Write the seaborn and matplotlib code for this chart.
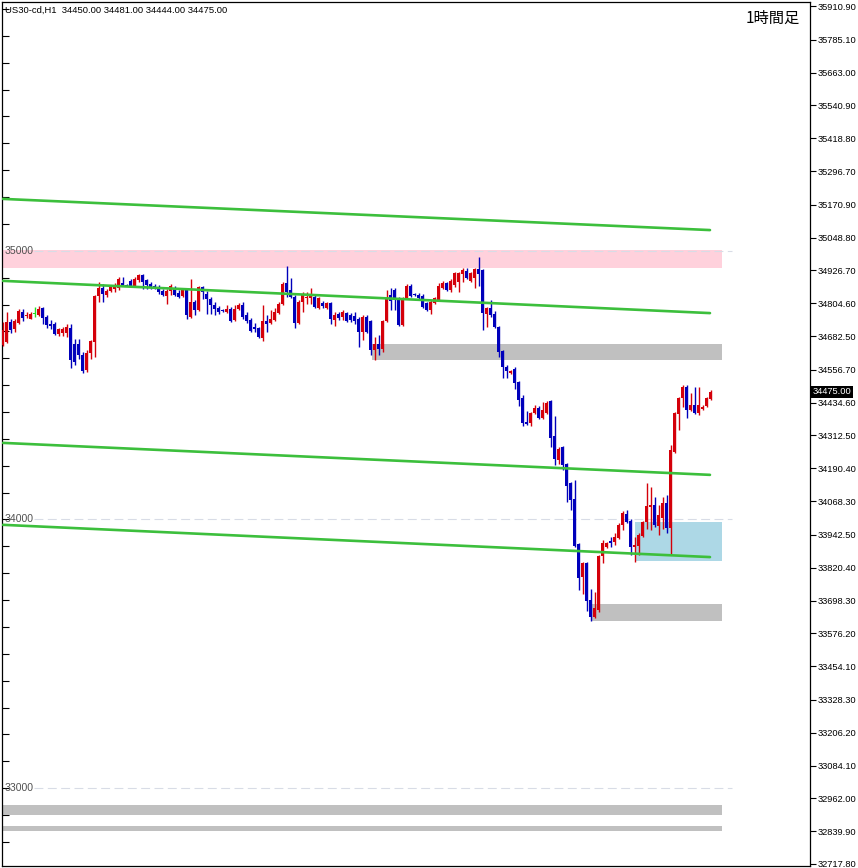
import numpy as np
import pandas as pd
import matplotlib
matplotlib.use('Agg')
import matplotlib.pyplot as plt
import matplotlib.transforms as mtransforms
from matplotlib.patches import Rectangle
from matplotlib.ticker import FixedLocator, MultipleLocator
import seaborn as sns

# === DATA: US30 1-hour candles ===
opens = [34649, 34661, 34735, 34709, 34731, 34772, 34757, 34746, 34765, 34761,
         34787, 34754, 34728, 34728, 34690, 34694, 34694, 34713, 34653, 34653,
         34612, 34556, 34620, 34661, 34832, 34862, 34836, 34850, 34858, 34862,
         34880, 34873, 34888, 34869, 34891, 34910, 34891, 34877, 34869, 34865,
         34850, 34832, 34850, 34858, 34843, 34832, 34858, 34754, 34810, 34780,
         34865, 34839, 34821, 34799, 34787, 34780, 34772, 34783, 34743, 34783,
         34799, 34761, 34743, 34716, 34713, 34675, 34739, 34731, 34743, 34769,
         34802, 34880, 34854, 34828, 34731, 34810, 34825, 34825, 34828, 34787,
         34806, 34787, 34806, 34743, 34765, 34754, 34769, 34761, 34757, 34746,
         34698, 34754, 34739, 34631, 34653, 34634, 34739, 34836, 34854, 34825,
         34724, 34825, 34869, 34839, 34836, 34832, 34806, 34780, 34806, 34817,
         34862, 34880, 34854, 34873, 34884, 34914, 34925, 34888, 34899, 34932,
         34929, 34765, 34787, 34765, 34716, 34627, 34568, 34545, 34560, 34512,
         34452, 34363, 34359, 34396, 34415, 34378, 34396, 34441, 34311, 34222,
         34270, 34207, 34136, 34077, 33909, 33786, 33838, 33700, 33637, 33663,
         33864, 33898, 33920, 33917, 33932, 33980, 34020, 33995, 33898, 33902,
         33939, 33991, 34047, 34054, 33976, 34006, 34061, 33969, 34251, 34393,
         34452, 34493, 34408, 34426, 34396, 34411, 34422, 34450]
highs = [34735, 34772, 34746, 34746, 34783, 34783, 34772, 34772, 34791, 34795,
         34791, 34761, 34743, 34735, 34713, 34716, 34728, 34728, 34672, 34672,
         34623, 34631, 34668, 34836, 34884, 34877, 34858, 34873, 34880, 34903,
         34903, 34877, 34895, 34903, 34914, 34914, 34895, 34884, 34877, 34873,
         34858, 34858, 34877, 34869, 34854, 34862, 34862, 34895, 34817, 34869,
         34869, 34850, 34828, 34810, 34795, 34783, 34799, 34791, 34799, 34806,
         34810, 34772, 34750, 34731, 34716, 34799, 34761, 34780, 34787, 34810,
         34884, 34944, 34899, 34836, 34817, 34847, 34847, 34862, 34839, 34828,
         34813, 34810, 34810, 34772, 34772, 34780, 34772, 34769, 34772, 34754,
         34761, 34761, 34743, 34679, 34687, 34743, 34854, 34862, 34862, 34828,
         34828, 34877, 34877, 34843, 34843, 34839, 34810, 34817, 34828, 34880,
         34888, 34884, 34895, 34921, 34921, 34936, 34936, 34921, 34936, 34977,
         34932, 34791, 34817, 34776, 34720, 34631, 34575, 34556, 34568, 34515,
         34463, 34404, 34400, 34426, 34422, 34437, 34441, 34445, 34385, 34270,
         34274, 34211, 34140, 34147, 33913, 33842, 33842, 33741, 33730, 33868,
         33924, 33917, 33935, 33950, 33987, 34032, 34035, 34002, 33935, 33950,
         33995, 34136, 34121, 34084, 34054, 34084, 34091, 34277, 34400, 34456,
         34500, 34500, 34471, 34493, 34493, 34426, 34456, 34481]
lows = [34646, 34657, 34694, 34698, 34728, 34739, 34750, 34746, 34754, 34757,
        34728, 34713, 34709, 34687, 34683, 34683, 34679, 34564, 34575, 34597,
        34545, 34549, 34597, 34605, 34810, 34810, 34828, 34847, 34847, 34854,
        34869, 34869, 34865, 34865, 34884, 34858, 34858, 34858, 34858, 34839,
        34832, 34802, 34836, 34832, 34825, 34828, 34746, 34750, 34761, 34776,
        34821, 34765, 34765, 34761, 34765, 34772, 34769, 34735, 34739, 34780,
        34746, 34731, 34698, 34698, 34675, 34664, 34698, 34728, 34739, 34765,
        34799, 34828, 34825, 34713, 34728, 34772, 34802, 34802, 34787, 34783,
        34787, 34783, 34728, 34720, 34743, 34743, 34735, 34735, 34728, 34642,
        34668, 34694, 34612, 34594, 34612, 34623, 34735, 34780, 34780, 34720,
        34720, 34821, 34828, 34832, 34817, 34787, 34776, 34765, 34802, 34813,
        34858, 34850, 34847, 34865, 34847, 34884, 34895, 34884, 34862, 34869,
        34705, 34716, 34754, 34713, 34605, 34527, 34527, 34542, 34486, 34422,
        34348, 34352, 34348, 34393, 34374, 34374, 34393, 34270, 34203, 34207,
        34184, 34065, 34035, 33898, 33738, 33723, 33659, 33622, 33633, 33656,
        33838, 33894, 33898, 33906, 33928, 33961, 33987, 33868, 33842, 33868,
        33935, 33965, 33961, 33972, 33943, 33965, 33950, 33868, 34248, 34333,
        34419, 34378, 34404, 34393, 34390, 34408, 34419, 34444]
closes = [34705, 34735, 34705, 34739, 34776, 34750, 34761, 34765, 34765, 34783,
          34750, 34724, 34720, 34690, 34709, 34709, 34716, 34594, 34586, 34612,
          34553, 34620, 34664, 34832, 34862, 34839, 34850, 34869, 34873, 34895,
          34873, 34870, 34869, 34895, 34910, 34884, 34873, 34865, 34862, 34847,
          34836, 34850, 34869, 34836, 34828, 34858, 34761, 34810, 34780, 34865,
          34847, 34821, 34799, 34783, 34772, 34776, 34783, 34739, 34783, 34799,
          34754, 34739, 34702, 34709, 34679, 34739, 34728, 34746, 34772, 34802,
          34877, 34847, 34828, 34731, 34810, 34839, 34828, 34839, 34791, 34825,
          34795, 34806, 34746, 34761, 34750, 34772, 34739, 34743, 34739, 34698,
          34754, 34698, 34631, 34653, 34634, 34739, 34825, 34813, 34817, 34724,
          34825, 34869, 34832, 34836, 34825, 34791, 34780, 34810, 34825, 34869,
          34880, 34854, 34888, 34918, 34918, 34929, 34899, 34918, 34932, 34914,
          34769, 34787, 34761, 34716, 34623, 34568, 34553, 34553, 34508, 34445,
          34359, 34355, 34396, 34415, 34378, 34408, 34434, 34303, 34225, 34262,
          34203, 34125, 34073, 33901, 33782, 33838, 33697, 33637, 33670, 33864,
          33913, 33913, 33913, 33935, 33980, 34024, 33991, 33898, 33906, 33943,
          33991, 34050, 34054, 33980, 34017, 34061, 33969, 34259, 34396, 34452,
          34493, 34408, 34426, 34396, 34426, 34419, 34452, 34475]

# price scale labels on the right (MT4 style)
price_ticks = [35910.90, 35785.10, 35663.00, 35540.90, 35418.80, 35296.70, 35170.90,
               35048.80, 34926.70, 34804.60, 34682.50, 34556.70, 34434.60, 34312.50,
               34190.40, 34068.30, 33942.50, 33820.40, 33698.30, 33576.20, 33454.10,
               33328.30, 33206.20, 33084.10, 32962.00, 32839.90, 32717.80]

# round number levels
round_levels = [35000, 34000, 33000]

# zones: (start candle, low, high, colour)
zone_start = [0, 92.3, 158, 147.3, 0, 0]
zone_low = [34936, 34593, 33845, 33622, 32900, 32841]
zone_high = [35003, 34653, 33990, 33685, 32937, 32859]
zone_color = ['#ffd1dc', '#c0c0c0', '#add8e6', '#c0c0c0', '#c0c0c0', '#c0c0c0']

# channel lines: price at first and last point
channel_start = [35193, 34888, 34285, 33980]
channel_end = [35077, 34768, 34166, 33860]

symbol_info = 'US30-cd,H1  34450.00 34481.00 34444.00 34475.00'
last_price = 34475.00

df = pd.DataFrame({'Open': opens, 'High': highs, 'Low': lows, 'Close': closes})
df['idx'] = np.arange(len(df))

# === FIGURE ===
sns.set_style('white')
plt.rcParams['font.family'] = ['Liberation Sans', 'DejaVu Sans']

fig = plt.figure(figsize=(8.58, 8.68), dpi=100)
ax = fig.add_axes([2/858, 2/868, 808/858, 864/868])
ax.set_xlim(-0.175, 201.8)
ax.set_ylim(32710.3, 35925.8)

# zones
zone_end = 179.8
for s, lo, hi, c in zip(zone_start, zone_low, zone_high, zone_color):
    ax.add_patch(Rectangle((s, lo), zone_end - s, hi - lo, facecolor=c,
                           edgecolor='none', zorder=1))

# round number levels
for lv in round_levels:
    ax.plot([7.8, 182.3], [lv, lv], color='#d8dce6', lw=0.8, ls=(0, (8, 4)), zorder=1.5)
    ax.text(0.4, lv, str(lv), color='#505050', fontsize=7.6, va='center', ha='left', zorder=2)

# candles
up = df['Close'] > df['Open']
down = df['Close'] < df['Open']
colors = np.where(up, '#d4000a', np.where(down, '#0000bb', '#22dd22'))
ax.vlines(df['idx'], df['Low'], df['High'], colors=colors, lw=1.0, zorder=3)
body_lo = df[['Open', 'Close']].min(axis=1)
body_h = np.maximum((df['Close'] - df['Open']).abs(), 3.5)
ax.bar(df['idx'], body_h, bottom=body_lo, width=0.85, color=colors, linewidth=0, zorder=4)

# channel lines
for a, b in zip(channel_start, channel_end):
    sns.lineplot(x=[0.075, 176.8], y=[a, b], color='#3cbf3c', lw=1.9, ax=ax, zorder=5)

# axes styling
ax.set_xticks([])
ax.yaxis.set_major_locator(FixedLocator(price_ticks))
ax.set_yticklabels([f'{v:.2f}' for v in price_ticks])
ax.yaxis.set_minor_locator(MultipleLocator(100))
ax.tick_params(axis='y', which='major', left=False, right=True, labelleft=False,
               labelright=True, direction='out', length=4, width=0.8, pad=1.5,
               labelsize=6.7, colors='black')
ax.tick_params(axis='y', which='minor', left=True, right=False, direction='in',
               length=5, width=0.8, color='black')
for sp in ax.spines.values():
    sp.set_visible(True)
    sp.set_color('black')
    sp.set_linewidth(0.9)

# current price label
trans = mtransforms.blended_transform_factory(ax.transAxes, ax.transData)
ax.text(1.003, last_price, f'{last_price:.2f}', transform=trans, color='white',
        fontsize=6.7, va='center', ha='left', zorder=10,
        bbox=dict(boxstyle='square,pad=0.15', facecolor='black', edgecolor='none'))

# header texts
fig.text(5/858, 1 - 10/868, symbol_info, fontsize=6.8, va='center', ha='left', color='black')
fig.text(800/858, 1 - 18/868, '1時間足', fontsize=11, va='center', ha='right',
         family=['Noto Sans CJK JP', 'DejaVu Sans'], color='black')

fig.savefig('out.png', dpi=100, facecolor='white')
